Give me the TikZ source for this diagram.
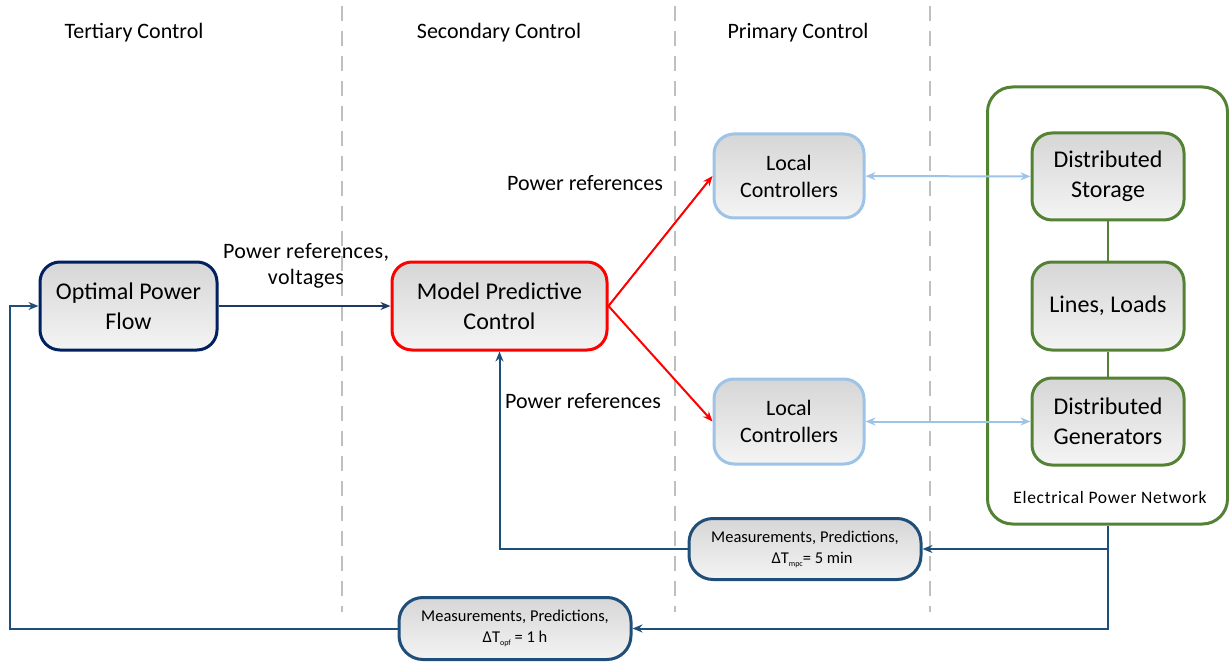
\documentclass[tikz,border=0pt]{standalone}
\usepackage{fontspec}
\setmainfont{Carlito}
\usetikzlibrary{arrows.meta}
\definecolor{navyc}{HTML}{002060}
\definecolor{navyl}{HTML}{1F3864}
\definecolor{fbc}{HTML}{1F4E79}
\definecolor{lblue}{HTML}{9DC3E6}
\definecolor{grn}{HTML}{548235}
\definecolor{dgray}{HTML}{BFBFBF}
\definecolor{shtop}{HTML}{D6D6D6}
\definecolor{shbot}{HTML}{F4F4F4}
\newcommand{\tinysub}[1]{\raisebox{-3pt}{\fontsize{8}{8}\selectfont #1}}
\tikzset{
  gbox/.style={rectangle, rounded corners=20pt, line width=3pt, top color=shtop, bottom color=shbot, align=center, inner sep=0pt},
  bigtxt/.style={font=\fontsize{24}{30}\selectfont},
  midtxt/.style={font=\fontsize{22}{27}\selectfont},
  smalltxt/.style={font=\fontsize{16.5}{21}\selectfont},
  lbl/.style={align=center, inner sep=0pt, font=\fontsize{22}{27}\selectfont},
  dashline/.style={dgray, line width=2pt, dash pattern=on 15pt off 10pt},
  tip/.style={-{Stealth[length=10pt,width=8pt]}},
  fbline/.style={fbc, line width=2pt},
}
\begin{document}
\begin{tikzpicture}[x=1pt,y=-1pt]
\useasboundingbox (0,0) rectangle (1229,663);
% dashed separators
\draw[dashline] (342,6) -- (342,612);
\draw[dashline] (675,6) -- (675,612);
\draw[dashline] (930,6) -- (930,612);
% headers
\node[lbl] (h1) at (134,33) {Tertiary Control};
\node[lbl] (h2) at (499,33) {Secondary Control};
\node[lbl] (h3) at (798,33) {Primary Control};
% electrical power network
\node[draw=grn, line width=3pt, rounded corners=25pt, minimum width=240pt, minimum height=437pt] (epn) at (1107.5,305.5) {};
\node[inner sep=0pt, font=\fontsize{17.5}{20}\selectfont\addfontfeature{LetterSpace=4}] (epnl) at (1110,497) {Electrical Power Network};
% boxes
\node[gbox, bigtxt, draw=navyc, minimum width=177pt, minimum height=88pt] (opf) at (128.5,306) {Optimal Power\\Flow};
\node[gbox, bigtxt, draw=red, minimum width=215pt, minimum height=88pt] (mpc) at (499.5,306) {Model Predictive\\Control};
\node[gbox, midtxt, draw=lblue, minimum width=150pt, minimum height=84pt] (lc1) at (789,176) {Local\\Controllers};
\node[gbox, midtxt, draw=lblue, minimum width=150pt, minimum height=85pt] (lc2) at (789,421.5) {Local\\Controllers};
\node[gbox, bigtxt, draw=grn, minimum width=152pt, minimum height=87pt] (ds) at (1108,176.5) {Distributed\\Storage};
\node[gbox, bigtxt, draw=grn, minimum width=152pt, minimum height=88pt] (ll) at (1108,306) {Lines, Loads};
\node[gbox, bigtxt, draw=grn, minimum width=152pt, minimum height=87pt] (dg) at (1108,421.5) {Distributed\\Generators};
\node[gbox, smalltxt, draw=fbc, rounded corners=24pt, minimum width=232pt, minimum height=61pt] (mmpc) at (805,549) {Measurements, Predictions,\\ \hspace*{14pt}ΔT\tinysub{mpc}= 5 min};
\node[gbox, smalltxt, draw=fbc, rounded corners=24pt, minimum width=232pt, minimum height=62pt] (mopf) at (515,628.5) {Measurements, Predictions,\\ΔT\tinysub{opf} = 1 h};
% labels
\node[lbl, font=\fontsize{22}{26}\selectfont\addfontfeature{LetterSpace=1.5}] (l1) at (306,266) {Power references,\\voltages};
\node[lbl] (l2) at (585,183) {Power references};
\node[lbl] (l3) at (583,401) {Power references};
% connectors
\draw[tip, navyl, line width=2pt] (opf) -- (mpc);
\draw[tip, red, line width=2pt] (mpc.east) -- (lc1.west);
\draw[tip, red, line width=2pt] (mpc.east) -- (lc2.west);
\draw[{Stealth[length=10pt,width=8pt]}-{Stealth[length=10pt,width=8pt]}, lblue, line width=2pt] (lc1) -- (ds);
\draw[{Stealth[length=10pt,width=8pt]}-{Stealth[length=10pt,width=8pt]}, lblue, line width=2pt] (lc2) -- (dg);
\draw[grn, line width=2pt] (ds) -- (ll);
\draw[grn, line width=2pt] (ll) -- (dg);
% feedback
\coordinate (lb) at (10,628.5);
\draw[fbline, tip] (epn.south) |- (mmpc.east);
\draw[fbline, tip] (epn.south) |- (mopf.east);
\draw[fbline, tip] (mmpc.west) -| (mpc.south);
\draw[fbline, tip] (mopf.west) -- (lb) |- (opf.west);
\end{tikzpicture}
\end{document}
